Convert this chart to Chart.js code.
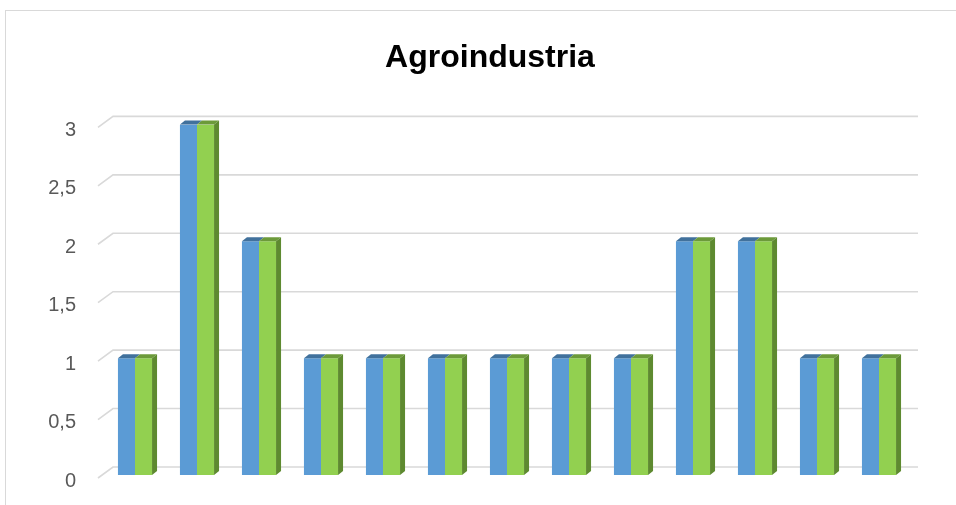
<!DOCTYPE html>
<html>
<head>
<meta charset="utf-8">
<script src="https://cdn.jsdelivr.net/npm/chart.js@4/dist/chart.umd.min.js"></script>
<style>
  html, body { margin: 0; padding: 0; background: #fff; }
  #wrap { width: 956px; height: 505px; position: relative; }
</style>
</head>
<body>
<div id="wrap"><canvas id="chart"></canvas></div>
<script>
// Data
const categories = ['1', '2', '3', '4', '5', '6', '7', '8', '9', '10', '11', '12', '13'];
const seriesBlue = [1, 3, 2, 1, 1, 1, 1, 1, 1, 2, 2, 1, 1];
const seriesGreen = [1, 3, 2, 1, 1, 1, 1, 1, 1, 2, 2, 1, 1];
const yTicks = [0, 0.5, 1, 1.5, 2, 2.5, 3];

// Colors
const faceColors = ['#5B9BD5', '#92D050'];
const topColors = ['#41719C', '#6C9A3A'];
const sideColor = '#5E8A30';
const gridColor = '#d9d9d9';
const labelColor = '#595959';

// 3D depth of the bars / back wall
const DX = 5, DY = 4;

// Frame around the whole chart
const framePlugin = {
    id: 'frame',
    beforeDraw(chart) {
        const ctx = chart.ctx;
        ctx.save();
        ctx.strokeStyle = gridColor;
        ctx.lineWidth = 1;
        ctx.strokeRect(5.5, 10.5, 1000, 600);
        ctx.restore();
    }
};

// Gridlines with a little perspective (front edge + back wall) and the y labels
const gridPlugin = {
    id: 'grid3d',
    beforeDatasetsDraw(chart) {
        const ctx = chart.ctx;
        const y = chart.scales.y;
        const area = chart.chartArea;
        ctx.save();
        ctx.strokeStyle = gridColor;
        ctx.lineWidth = 1.6;
        ctx.fillStyle = labelColor;
        ctx.font = '20px "Liberation Sans"';
        ctx.textAlign = 'right';
        ctx.textBaseline = 'middle';
        yTicks.forEach(v => {
            const py = y.getPixelForValue(v);
            ctx.beginPath();
            ctx.moveTo(area.left - 6, py + 3);
            ctx.lineTo(area.left + 9, py - 8);
            ctx.lineTo(area.right + 8, py - 8);
            ctx.stroke();
            ctx.fillText(String(v).replace('.', ','), area.left - 28, py + 6);
        });
        ctx.restore();
    }
};

// Top and side faces of the bars
const bar3dPlugin = {
    id: 'bar3d',
    afterDatasetsDraw(chart) {
        const ctx = chart.ctx;
        ctx.save();
        chart.data.datasets.forEach((ds, i) => {
            const meta = chart.getDatasetMeta(i);
            meta.data.forEach(bar => {
                const l = bar.x - bar.width / 2;
                const r = bar.x + bar.width / 2;
                ctx.fillStyle = topColors[i];
                ctx.beginPath();
                ctx.moveTo(l, bar.y);
                ctx.lineTo(r, bar.y);
                ctx.lineTo(r + DX, bar.y - DY);
                ctx.lineTo(l + DX, bar.y - DY);
                ctx.closePath();
                ctx.fill();
                if (i === chart.data.datasets.length - 1) {
                    ctx.fillStyle = sideColor;
                    ctx.beginPath();
                    ctx.moveTo(r, bar.y);
                    ctx.lineTo(r + DX, bar.y - DY);
                    ctx.lineTo(r + DX, bar.base - DY);
                    ctx.lineTo(r, bar.base);
                    ctx.closePath();
                    ctx.fill();
                }
            });
        });
        ctx.restore();
    }
};

const ctx = document.getElementById('chart').getContext('2d');
new Chart(ctx, {
    type: 'bar',
    data: {
        labels: categories,
        datasets: [
            { label: 'Serie 1', data: seriesBlue, backgroundColor: faceColors[0] },
            { label: 'Serie 2', data: seriesGreen, backgroundColor: faceColors[1] }
        ]
    },
    options: {
        responsive: true,
        maintainAspectRatio: false,
        animation: false,
        layout: { padding: { left: 70, right: 46, bottom: 30, top: 0 } },
        datasets: {
            bar: { categoryPercentage: 0.55, barPercentage: 1.0 }
        },
        plugins: {
            legend: { display: false },
            tooltip: { enabled: false },
            title: {
                display: true,
                text: 'Agroindustria',
                color: '#000',
                font: { family: 'Liberation Sans', size: 32, weight: 'bold', lineHeight: 1.2 },
                padding: { top: 39, bottom: 47 }
            }
        },
        scales: {
            x: {
                display: false,
                offset: true,
                grid: { display: false }
            },
            y: {
                min: 0,
                max: 3,
                afterFit(scale) { scale.width = 34; },
                afterBuildTicks(scale) { scale.ticks = yTicks.map(v => ({ value: v })); },
                border: { display: false },
                grid: { display: false, drawTicks: false },
                ticks: { display: false }
            }
        }
    },
    plugins: [framePlugin, gridPlugin, bar3dPlugin]
});
</script>
</body>
</html>
